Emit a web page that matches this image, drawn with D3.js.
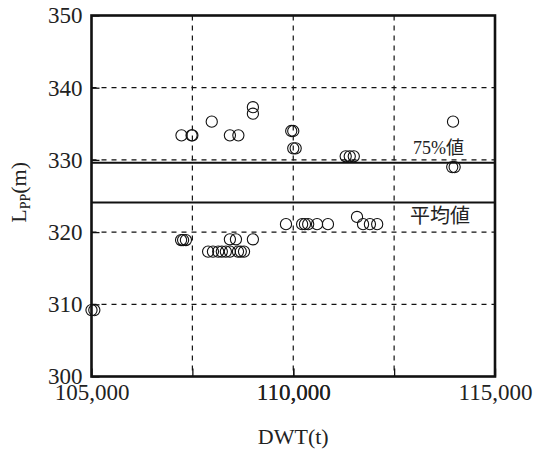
<!DOCTYPE html>
<html>
<head>
<meta charset="utf-8">
<script src="https://cdn.jsdelivr.net/npm/d3@7"></script>
<style>
  html, body { margin: 0; padding: 0; background: #fff; }
  svg { display: block; }
  svg text { font-family: "Liberation Serif", "Noto Sans CJK JP" !important; fill: #222; }
</style>
</head>
<body>
<svg id="chart" width="534" height="450"></svg>
<script>
// Ship data: deadweight tonnage (t) and length between perpendiculars (m)
const dwt = [
  105000, 105070,
  107230, 107480, 107500,
  107980,
  108430, 108640,
  109000, 109000,
  109950, 110000,
  110000, 110060,
  111300, 111400, 111500,
  113960,
  113940, 114000,
  107220, 107270, 107340,
  108430, 108580,
  109000,
  107890, 108010, 108140, 108230, 108330, 108430, 108630, 108700, 108780,
  109820,
  110220, 110290, 110370, 110590, 110860,
  111580,
  111730, 111900, 112080
];
const lpp = [
  309.2, 309.2,
  333.4, 333.4, 333.4,
  335.3,
  333.4, 333.4,
  337.3, 336.4,
  334.0, 334.0,
  331.6, 331.6,
  330.5, 330.5, 330.5,
  335.3,
  329.0, 329.0,
  318.9, 318.9, 318.9,
  319.0, 319.0,
  319.0,
  317.3, 317.3, 317.3, 317.3, 317.3, 317.3, 317.3, 317.3, 317.3,
  321.1,
  321.1, 321.1, 321.1, 321.1, 321.1,
  322.1,
  321.1, 321.1, 321.1
];

const xTicks = [105000, 110000, 115000];
const xGrid = [107500, 110000, 112500];
const yTicks = [300, 310, 320, 330, 340, 350];
const yGrid = [310, 320, 330, 340];

// Reference levels
const refValues = [329.6, 324.1];
const refLabels = ["75%値", "平均値"];

const svg = d3.select("#chart");
const pLeft = 91.5, pRight = 495, pTop = 15.5, pBottom = 376.5;

const x = d3.scaleLinear().domain([105000, 115000]).range([pLeft, pRight]);
const y = d3.scaleLinear().domain([300, 350]).range([pBottom, pTop]);

// Dashed grid
svg.append("g").selectAll("line").data(xGrid).join("line")
  .attr("x1", d => x(d)).attr("x2", d => x(d))
  .attr("y1", pTop).attr("y2", pBottom)
  .attr("stroke", "#111").attr("stroke-width", 1.2)
  .attr("stroke-dasharray", "5,5");
svg.append("g").selectAll("line").data(yGrid).join("line")
  .attr("x1", pLeft).attr("x2", pRight)
  .attr("y1", d => y(d)).attr("y2", d => y(d))
  .attr("stroke", "#111").attr("stroke-width", 1.2)
  .attr("stroke-dasharray", "5,5");

// Inward ticks with labels
const fmt = d3.format(",");
const yAxis = d3.axisLeft(y).tickValues(yTicks).tickSizeInner(-8).tickSizeOuter(0).tickPadding(9).tickFormat(d3.format("d"));
const gy = svg.append("g").attr("transform", `translate(${pLeft},0)`).call(yAxis);
gy.select(".domain").remove();
gy.selectAll(".tick line").attr("stroke", "#111").attr("stroke-width", 1.3);
gy.selectAll(".tick text").attr("font-size", 23).attr("fill", "#222");

const xAxis = d3.axisBottom(x).tickValues(xGrid.concat(xTicks)).tickSizeInner(-8).tickSizeOuter(0).tickPadding(7)
  .tickFormat(d => xTicks.includes(d) ? fmt(d) : "");
const gx = svg.append("g").attr("transform", `translate(0,${pBottom})`).call(xAxis);
gx.select(".domain").remove();
gx.selectAll(".tick line").attr("stroke", "#111").attr("stroke-width", 1.3);
gx.selectAll(".tick text").attr("font-size", 23).attr("fill", "#222");

// Reference lines
svg.append("g").selectAll("line").data(refValues).join("line")
  .attr("x1", pLeft).attr("x2", pRight)
  .attr("y1", d => y(d)).attr("y2", d => y(d))
  .attr("stroke", "#111").attr("stroke-width", 2);

svg.append("g").selectAll("text").data(refLabels).join("text")
  .attr("x", (d, i) => i === 0 ? 413 : 410)
  .attr("y", (d, i) => y(refValues[i]) + (i === 0 ? -9 : 21))
  .attr("font-size", (d, i) => i === 0 ? 18 : 20)
  .text(d => d);

// Points
svg.append("g").selectAll("circle").data(dwt).join("circle")
  .attr("cx", d => x(d))
  .attr("cy", (d, i) => y(lpp[i]))
  .attr("r", 5.6)
  .attr("fill", "none")
  .attr("stroke", "#111")
  .attr("stroke-width", 1.1);

// Frame
svg.append("rect")
  .attr("x", pLeft).attr("y", pTop)
  .attr("width", pRight - pLeft).attr("height", pBottom - pTop)
  .attr("fill", "none").attr("stroke", "#111").attr("stroke-width", 2.6);

// Axis titles
svg.append("text")
  .attr("x", x(110000)).attr("y", 444)
  .attr("text-anchor", "middle").attr("font-size", 22)
  .text("DWT(t)");

const yt = svg.append("text")
  .attr("transform", `translate(26,${y(325.5)}) rotate(-90)`)
  .attr("text-anchor", "middle").attr("font-size", 22);
yt.append("tspan").text("L");
yt.append("tspan").attr("font-size", 14).attr("dy", 4).text("PP");
yt.append("tspan").attr("dy", -4).text("(m)");
</script>
</body>
</html>
